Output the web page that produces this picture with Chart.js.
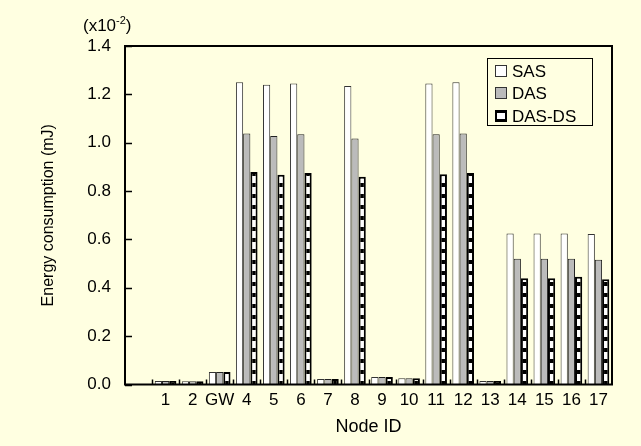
<!DOCTYPE html>
<html>
<head>
<meta charset="utf-8">
<script src="https://cdn.jsdelivr.net/npm/chart.js@4/dist/chart.umd.min.js"></script>
<style>
  html, body { margin: 0; padding: 0; background: #ffffe1; }
  #wrap { width: 641px; height: 446px; }
</style>
</head>
<body>
<div id="wrap"><canvas id="chart" width="641" height="446"></canvas></div>
<script>
// Node IDs (first slot is an empty category, as in the original figure)
const nodeLabels = ["", "1", "2", "GW", "4", "5", "6", "7", "8", "9", "10", "11", "12", "13", "14", "15", "16", "17"];

// Energy consumption, x10^-2 mJ
const sasValues = [null, 0.014, 0.013, 0.052, 1.25, 1.24, 1.245, 0.023, 1.235, 0.031, 0.026, 1.245, 1.25, 0.014, 0.625, 0.625, 0.625, 0.622];
const dasValues = [null, 0.014, 0.013, 0.052, 1.038, 1.028, 1.035, 0.023, 1.017, 0.031, 0.026, 1.035, 1.038, 0.014, 0.52, 0.52, 0.52, 0.516];
const dasDsValues = [null, 0.014, 0.013, 0.052, 0.879, 0.868, 0.875, 0.023, 0.859, 0.031, 0.026, 0.87, 0.875, 0.014, 0.439, 0.439, 0.446, 0.435];

const yTicks = [0, 0.2, 0.4, 0.6, 0.8, 1.0, 1.2, 1.4];

const BG = "#ffffe1";
const FONT = "'Liberation Sans', Arial, sans-serif";

// ladder pattern for DAS-DS
function ladderPattern(ctx) {
  const c = document.createElement("canvas");
  c.width = 8;
  c.height = 11;
  const p = c.getContext("2d");
  p.fillStyle = "#ffffff";
  p.fillRect(0, 0, 8, 11);
  p.fillStyle = "#000000";
  p.fillRect(0, 7, 8, 4);
  return ctx.createPattern(c, "repeat");
}

const canvas = document.getElementById("chart");
const ctx = canvas.getContext("2d");
const ladder = ladderPattern(ctx);

const decorPlugin = {
  id: "decor",
  beforeDraw(chart) {
    const c = chart.ctx;
    c.save();
    c.fillStyle = BG;
    c.fillRect(0, 0, chart.width, chart.height);
    c.restore();
  },
  afterDraw(chart) {
    const c = chart.ctx;
    const area = chart.chartArea;
    const x = chart.scales.x;
    const y = chart.scales.y;
    c.save();

    // plot frame
    c.strokeStyle = "#000";
    c.lineWidth = 2;
    c.strokeRect(area.left, area.top, area.right - area.left, area.bottom - area.top);

    // inward ticks on y
    c.lineWidth = 1.5;
    c.beginPath();
    yTicks.forEach((v) => {
      const py = Math.round(y.getPixelForValue(v)) + 0.5;
      c.moveTo(area.left, py);
      c.lineTo(area.left + 7, py);
    });
    // inward ticks on x, at category boundaries
    for (let i = 1; i < nodeLabels.length; i++) {
      const px = Math.round((x.getPixelForValue(i - 1) + x.getPixelForValue(i)) / 2) + 0.5;
      c.moveTo(px, area.bottom);
      c.lineTo(px, area.bottom - 5);
    }
    c.stroke();

    // axis multiplier
    c.fillStyle = "#000";
    c.textBaseline = "alphabetic";
    c.textAlign = "left";
    c.font = "17px " + FONT;
    let tx = 83;
    c.fillText("(x10", tx, 31);
    tx += c.measureText("(x10").width;
    c.font = "11px " + FONT;
    c.fillText("-2", tx, 24);
    tx += c.measureText("-2").width;
    c.font = "17px " + FONT;
    c.fillText(")", tx, 31);

    // legend box
    const lx = 487, ly = 58, lw = 105, lh = 67;
    c.fillStyle = BG;
    c.fillRect(lx, ly, lw, lh);
    c.strokeStyle = "#000";
    c.lineWidth = 1;
    c.strokeRect(lx + 0.5, ly + 0.5, lw, lh);

    const rows = [71, 93, 116];
    c.font = "17px " + FONT;
    c.textBaseline = "middle";
    chart.data.datasets.forEach((ds, i) => {
      const sy = rows[i] - 6;
      if (i === 2) {
        c.fillStyle = "#000";
        c.fillRect(495, sy, 12, 12);
        c.fillStyle = "#fff";
        c.fillRect(497, sy + 3, 8, 6);
      } else {
        c.fillStyle = ds.backgroundColor;
        c.fillRect(495, sy, 12, 12);
        c.strokeStyle = "#333";
        c.strokeRect(495.5, sy + 0.5, 11, 11);
      }
      c.fillStyle = "#000";
      c.fillText(ds.label, 512, rows[i] + 1);
    });

    c.restore();
  },
};

new Chart(ctx, {
  type: "bar",
  data: {
    labels: nodeLabels,
    datasets: [
      {
        label: "SAS",
        data: sasValues,
        backgroundColor: "#ffffff",
        borderColor: "#333333",
        borderWidth: 1,
      },
      {
        label: "DAS",
        data: dasValues,
        backgroundColor: "#bbbbbb",
        borderColor: "#222222",
        borderWidth: 1,
      },
      {
        label: "DAS-DS",
        data: dasDsValues,
        backgroundColor: ladder,
        borderColor: "#000000",
        borderWidth: 2,
      },
    ],
  },
  options: {
    responsive: false,
    animation: false,
    events: [],
    categoryPercentage: 0.8,
    barPercentage: 1.0,
    layout: {
      padding: { top: 46, right: 29, bottom: 0, left: 0 },
    },
    plugins: {
      legend: { display: false },
      tooltip: { enabled: false },
    },
    scales: {
      x: {
        grid: { display: false, drawTicks: false },
        border: { display: false },
        ticks: {
          color: "#000",
          font: { family: FONT, size: 17 },
          padding: 6,
          autoSkip: false,
          maxRotation: 0,
        },
        title: {
          display: true,
          text: "Node ID",
          color: "#000",
          font: { family: FONT, size: 18 },
          padding: { top: 0, bottom: 8 },
        },
        afterFit: (scale) => {
          scale.height = 61.5;
        },
      },
      y: {
        min: 0,
        max: 1.4,
        grid: { display: false, drawTicks: false },
        border: { display: false },
        ticks: {
          stepSize: 0.2,
          color: "#000",
          font: { family: FONT, size: 17 },
          padding: 14,
          callback: (value) => value.toFixed(1),
        },
        title: {
          display: true,
          text: "Energy consumption (mJ)",
          color: "#000",
          font: { family: FONT, size: 16 },
          padding: { top: 39, bottom: 0 },
        },
        afterFit: (scale) => {
          scale.width = 125;
        },
      },
    },
  },
  plugins: [decorPlugin],
});
</script>
</body>
</html>
